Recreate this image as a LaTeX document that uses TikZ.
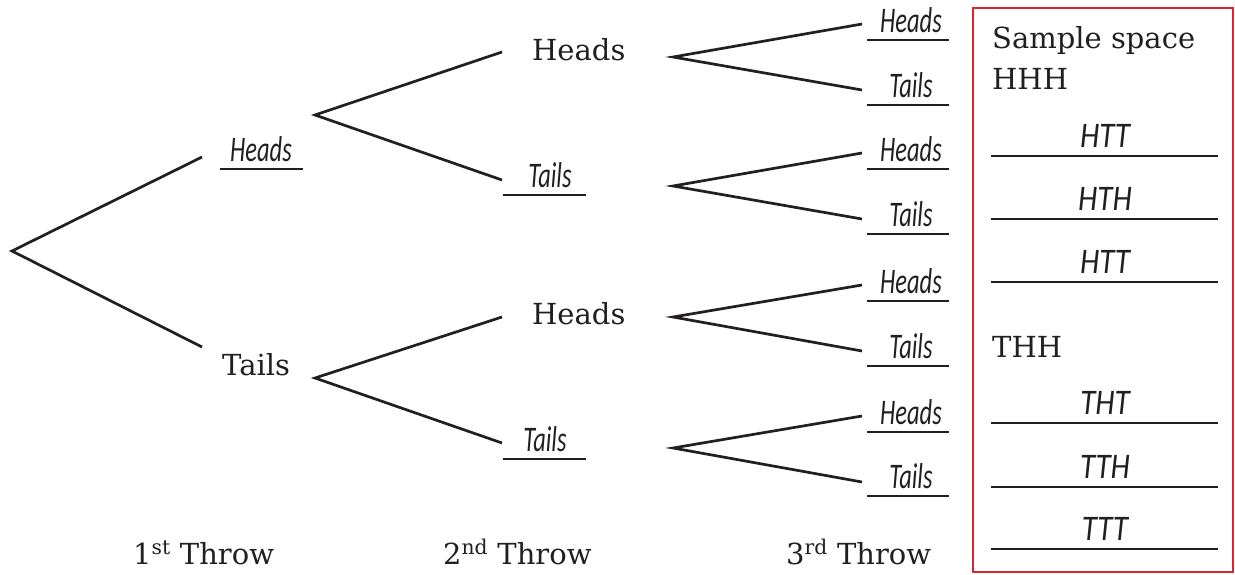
\documentclass[tikz,border=0pt]{standalone}
\usepackage{fontspec}
\newfontfamily\slabfont{DejaVu Serif}
\newfontfamily\handfont{Carlito}
\definecolor{ink}{HTML}{231F20}
\definecolor{boxred}{HTML}{D7262E}
\newcommand{\sqz}[1]{\scalebox{0.68}[1]{#1}}
\newcommand{\sqzb}[1]{\scalebox{0.86}[1]{#1}}
\begin{document}
\begin{tikzpicture}[x=1pt,y=-1pt,
  branch/.style={draw=ink, line width=2.7pt, line join=miter},
  uline/.style={draw=ink, line width=1.6pt},
  serif/.style={font=\slabfont\fontsize{29}{34}\selectfont, text=ink, inner sep=0pt, anchor=base west},
  hand/.style={font=\handfont\itshape\fontsize{36}{40}\selectfont, text=ink, inner sep=0pt, anchor=base}]
\useasboundingbox (0,0) rectangle (1235,574);

% tree points
\coordinate (r) at (12,251);
\coordinate (h1e) at (202,157);
\coordinate (t1e) at (202,347);
\coordinate (h1a) at (315,115);
\coordinate (t1a) at (315,378);
\coordinate (hhe) at (502,52);
\coordinate (hte) at (502,180);
\coordinate (the) at (502,317);
\coordinate (tte) at (502,443);
\coordinate (hha) at (673,57);
\coordinate (hta) at (673,186);
\coordinate (tha) at (673,317);
\coordinate (tta) at (673,448);
\coordinate (e1) at (862,24);
\coordinate (e2) at (862,90);
\coordinate (e3) at (862,153);
\coordinate (e4) at (862,219);
\coordinate (e5) at (862,285);
\coordinate (e6) at (862,351);
\coordinate (e7) at (862,416);
\coordinate (e8) at (862,482);

\draw[branch] (h1e) -- (r) -- (t1e);
\draw[branch] (hhe) -- (h1a) -- (hte);
\draw[branch] (the) -- (t1a) -- (tte);
\draw[branch] (e1) -- (hha) -- (e2);
\draw[branch] (e3) -- (hta) -- (e4);
\draw[branch] (e5) -- (tha) -- (e6);
\draw[branch] (e7) -- (tta) -- (e8);

% first throw labels
\node[hand] (l1h) at (261,161) {\sqz{Heads}};
\draw[uline] (220,169) -- (303,169);
\node[serif] (l1t) at (222,375) {Tails};

% second throw labels
\node[serif] (l2hh) at (532,60) {Heads};
\node[hand] (l2ht) at (550,187) {\sqz{Tails}};
\draw[uline] (503,195) -- (586,195);
\node[serif] (l2th) at (532,324) {Heads};
\node[hand] (l2tt) at (545,451) {\sqz{Tails}};
\draw[uline] (503,459) -- (586,459);

% third throw labels
\foreach \y/\w [count=\i] in {40/Heads,105/Tails,169/Heads,234/Tails,301/Heads,366/Tails,432/Heads,496/Tails}{
  \node[hand] (l3\i) at (911,\y-8) {\sqz{\w}};
  \draw[uline] (867,\y) -- (949,\y);
}

% sample space box
\draw[draw=boxred, line width=2.2pt] (973,8) rectangle (1233,572);
\node[serif] (ss) at (992,48) {Sample space};
\node[serif] (hhh) at (992,89) {HHH};
\node[serif] (thh) at (992,357) {THH};
\foreach \y/\w [count=\i] in {156/HTT,219/HTH,282/HTT,423/THT,487/TTH,549/TTT}{
  \node[hand] (s\i) at (1105,\y-9) {\sqzb{\w}};
  \draw[uline] (991,\y) -- (1218,\y);
}

% throw captions
\node[serif] (c1) at (133,564) {1\textsuperscript{st} Throw};
\node[serif] (c2) at (443,564) {2\textsuperscript{nd} Throw};
\node[serif] (c3) at (786,564) {3\textsuperscript{rd} Throw};
\end{tikzpicture}
\end{document}
